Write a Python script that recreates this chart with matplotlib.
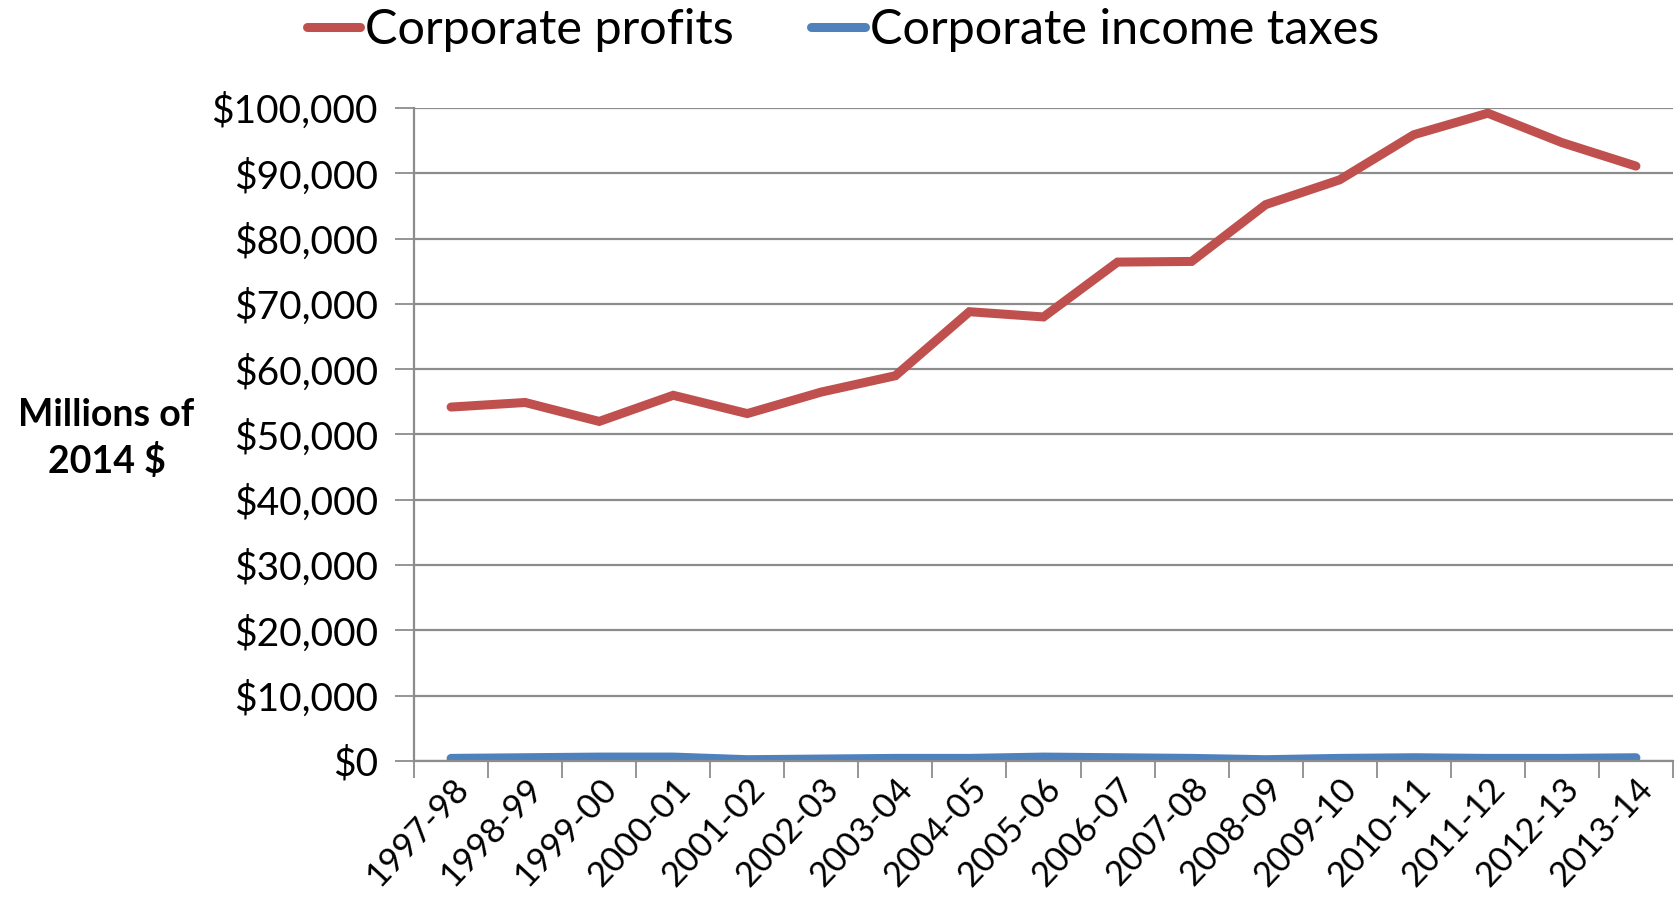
import numpy as np
import matplotlib
matplotlib.use("Agg")
import matplotlib.pyplot as plt
from matplotlib.ticker import FuncFormatter, FixedLocator

plt.rcParams['font.family'] = ['Lato', 'DejaVu Sans']

years = ["1997-98", "1998-99", "1999-00", "2000-01", "2001-02", "2002-03",
         "2003-04", "2004-05", "2005-06", "2006-07", "2007-08", "2008-09",
         "2009-10", "2010-11", "2011-12", "2012-13", "2013-14"]
profits = [54200, 54900, 52000, 56000, 53200, 56500, 59000, 68800, 68000,
           76400, 76500, 85200, 89000, 95900, 99200, 94700, 91100]
taxes = [400, 500, 600, 600, 200, 300, 400, 400, 600, 500, 400, 200,
         400, 500, 400, 400, 500]

red = "#C0504D"
blue = "#4F81BD"
grid = "#8C8C8C"

fig = plt.figure(figsize=(16.79, 8.99), dpi=100)
ax = fig.add_axes([0.2466, 0.1535, 0.7498, 0.7264])

x = np.arange(len(years))
ax.plot(x, profits, color=red, lw=6.5, solid_capstyle='round', solid_joinstyle='miter',
        label="Corporate profits")
ax.plot(x, taxes, color=blue, lw=6.5, solid_capstyle='round', label="Corporate income taxes")

ax.set_xlim(-0.5, len(years) - 0.5)
ax.set_ylim(0, 100000)
ax.set_yticks(np.arange(0, 100001, 10000))
ax.yaxis.set_major_formatter(FuncFormatter(lambda v, p: "${:,.0f}".format(v)))
ax.yaxis.grid(True, color=grid, lw=1.6)
ax.set_axisbelow(True)

# labels centred on categories, tick marks on the boundaries
ax.set_xticks(x)
ax.set_xticklabels(years, rotation=47, ha='right', va='top', rotation_mode='anchor')
ax.xaxis.set_minor_locator(FixedLocator(np.arange(-0.5, len(years), 1.0)))
ax.tick_params(axis='x', which='major', length=0, pad=8, labelsize=25)
ax.tick_params(axis='x', which='minor', length=12, width=1.3, color=grid)
ax.tick_params(axis='y', length=14, width=1.3, color=grid, labelsize=28, pad=12)

for s in ['top', 'right']:
    ax.spines[s].set_visible(False)
for s in ['left', 'bottom']:
    ax.spines[s].set_color(grid)
    ax.spines[s].set_linewidth(1.6)

fig.text(0.0635, 0.512, "Millions of\n2014 $", ha='center', va='center',
         fontsize=27, fontweight='bold', linespacing=1.35)

fig.legend(loc='center', bbox_to_anchor=(0.502, 0.967), ncol=2, frameon=False,
           fontsize=35, handlelength=1.1, handletextpad=0.1, columnspacing=1.6)

fig.savefig("out.png", dpi=100)
